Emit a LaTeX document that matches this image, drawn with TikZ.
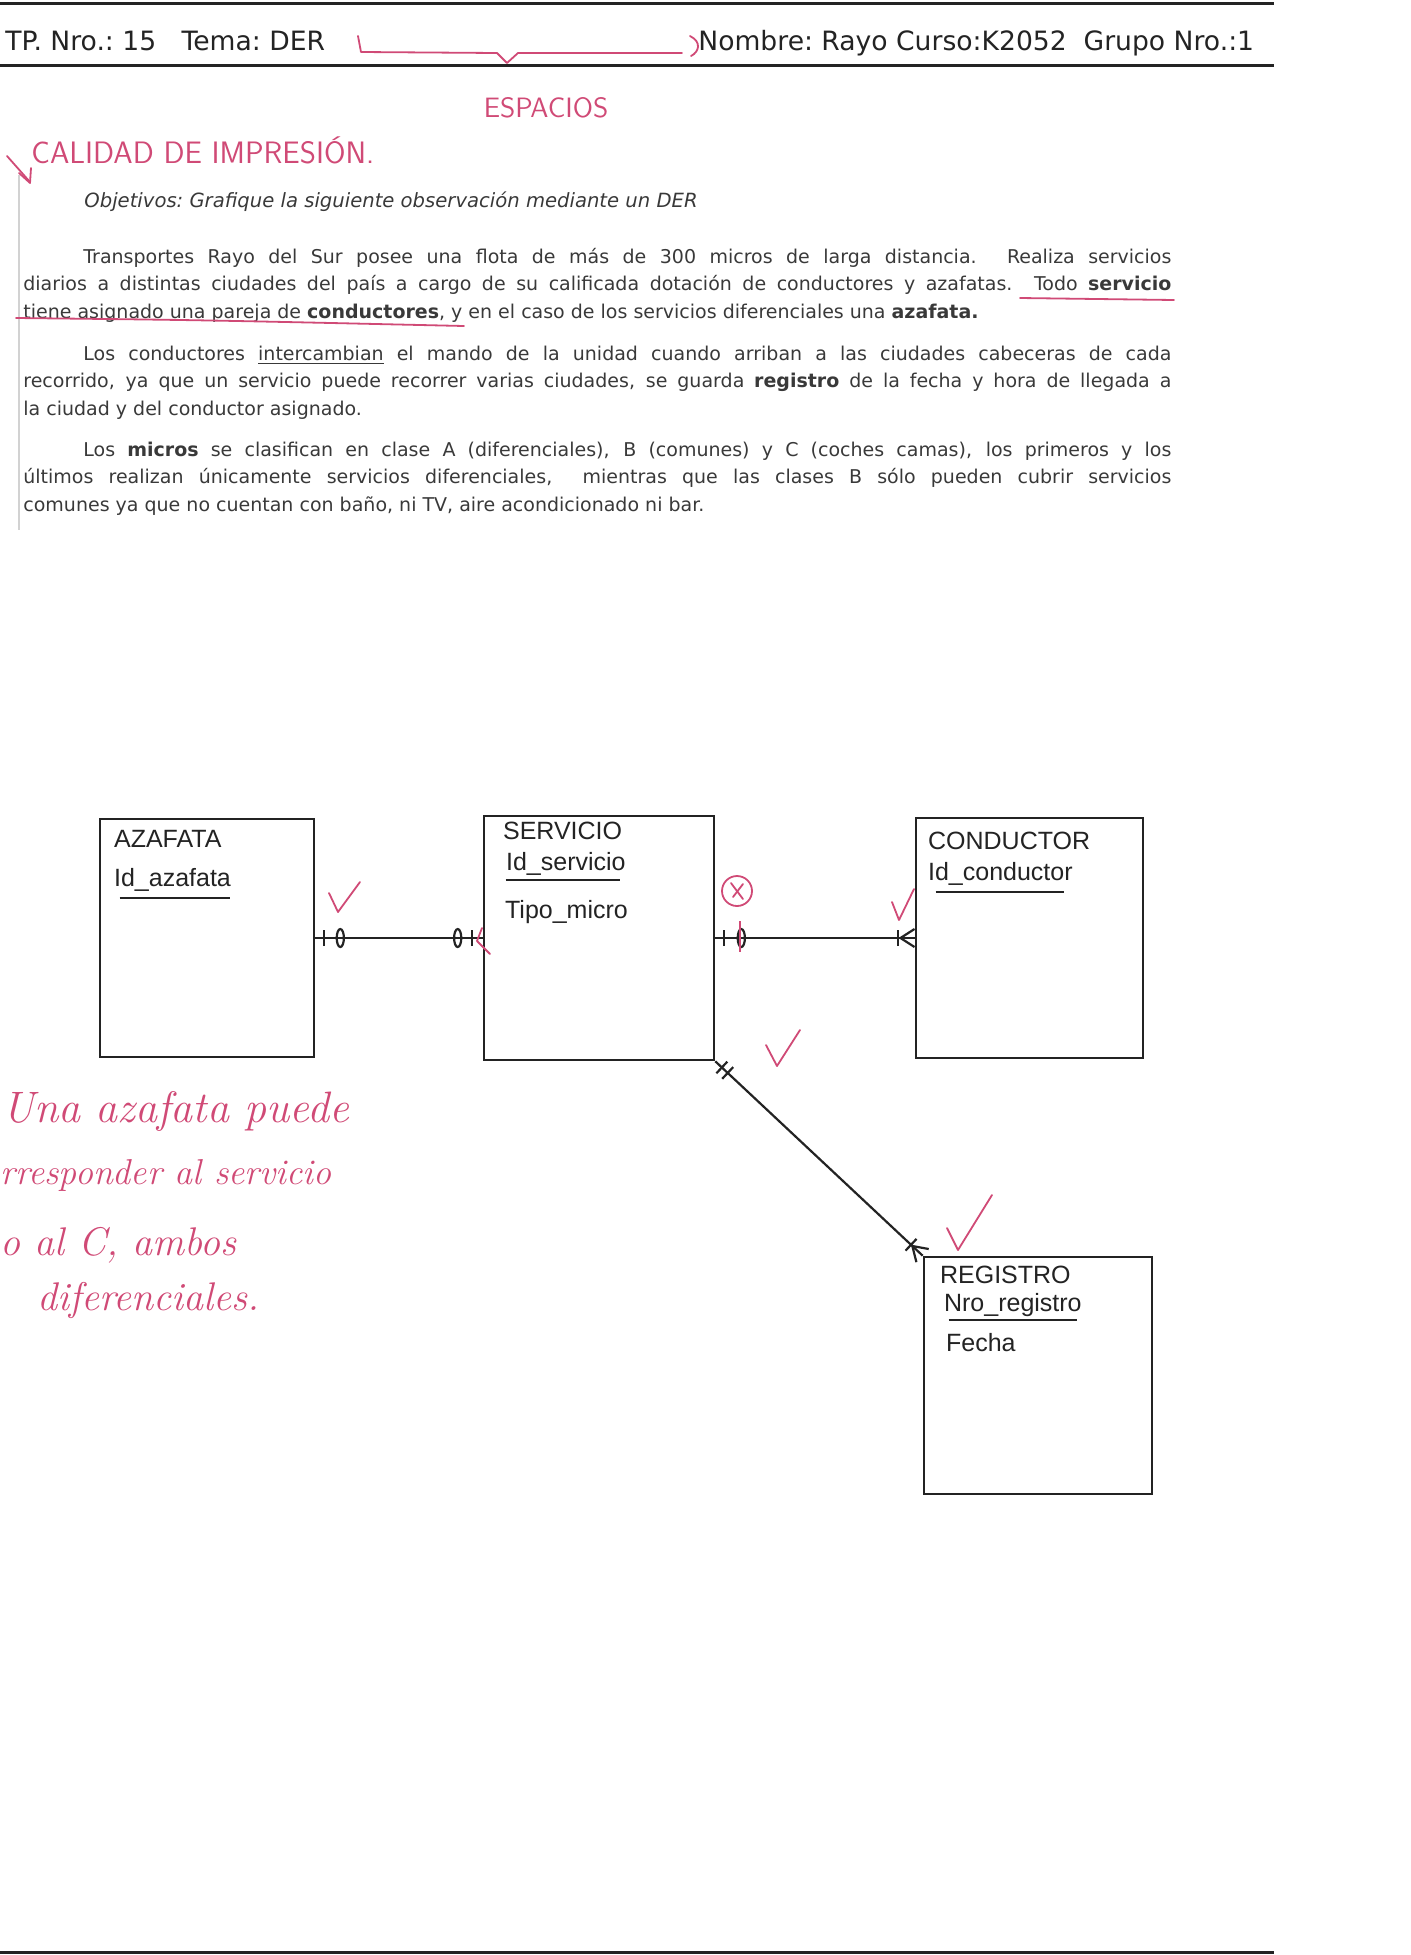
\documentclass[tikz,border=0pt]{standalone}
\usepackage{fontspec}
\newfontfamily\docfont{DejaVu Sans}
\newfontfamily\boxfont{Liberation Sans}
\usetikzlibrary{positioning,calc,decorations.markings}
\definecolor{ink}{RGB}{35,35,35}
\definecolor{penred}{RGB}{208,74,118}
\tolerance=9999
\hbadness=10000
\frenchspacing

\tikzset{
  entity/.style={draw=ink, line width=1.3pt, inner sep=0pt},
  etext/.style={anchor=base west, inner sep=0pt, text=ink, font=\boxfont\fontsize{12.5}{14}\selectfont},
  keyline/.style={draw=ink, line width=1.1pt},
  erline/.style={draw=ink, line width=1.1pt},
  bar at/.style={postaction={decorate, decoration={markings,
      mark=at position #1 with {\draw[ink, line width=1.1pt] (0pt,-4pt) -- (0pt,4pt);}}}},
  ring at/.style={postaction={decorate, decoration={markings,
      mark=at position #1 with {\draw[ink, line width=1.1pt] (0pt,0pt) ellipse [x radius=1.8pt, y radius=4.5pt];}}}},
  crow end/.style={postaction={decorate, decoration={markings,
      mark=at position -0.1pt with {\draw[ink, line width=1.1pt] (-7pt,0pt) -- (0pt,4.5pt) (-7pt,0pt) -- (0pt,-4.5pt);}}}},
  head/.style={anchor=base west, inner sep=0pt, text=ink, font=\docfont\fontsize{13.3}{16}\selectfont\frenchspacing},
  docline/.style={anchor=base west, inner sep=0pt, text=ink!90, font=\docfont\fontsize{9.8}{13.7}\selectfont\frenchspacing},
  para/.style={anchor=north west, inner sep=0pt, text width=574pt, align=justify, text=ink!90, font=\docfont\fontsize{9.5}{13.7}\selectfont\nonfrenchspacing},
  rule/.style={draw=ink, line width=1.5pt},
  penline/.style={draw=penred, line width=0.9pt, line cap=round, line join=round},
  capsnote/.style={inner sep=0pt, text=penred, font=\sffamily\fontsize{14}{16}\selectfont},
  hand/.style={anchor=base west, inner sep=0pt, text=penred, font=\fontsize{20}{20}\selectfont\itshape}
}

\begin{document}
\begin{tikzpicture}[x=0.5pt, y=-0.5pt]
  \useasboundingbox (0,0) rectangle (1410,1955);

  \draw[rule] (0,3) -- (1274,3);
  \draw[rule] (0,65) -- (1274,65);
  \draw[rule] (0,1952) -- (1274,1952);
  \node[head] (tp) at (5,50) {TP. Nro.: 15\ \ \ Tema: DER};
  \node[head] (nombre) at (698,50) {Nombre: Rayo Curso:K2052\ \ Grupo Nro.:1};

  \node[docline] (obj) at (84,207) {\itshape Objetivos: Grafique la siguiente observación mediante un DER};
  \node[para] (p1) at (23,244) {\strut\hspace*{30pt}Transportes Rayo del Sur posee una flota de más de 300 micros de larga distancia. Realiza servicios\linebreak
    diarios a distintas ciudades del país a cargo de su calificada dotación de conductores y azafatas. Todo \textbf{servicio}\linebreak
    tiene asignado una pareja de \textbf{conductores}, y en el caso de los servicios diferenciales una \textbf{azafata.}};
  \node[para] (p2) at (23,341) {\strut\hspace*{30pt}Los conductores \underline{intercambian} el mando de la unidad cuando arriban a las ciudades cabeceras de cada\linebreak
    recorrido, ya que un servicio puede recorrer varias ciudades, se guarda \textbf{registro} de la fecha y hora de llegada a\linebreak
    la ciudad y del conductor asignado.};
  \node[para] (p3) at (23,437) {\strut\hspace*{30pt}Los \textbf{micros} se clasifican en clase A (diferenciales), B (comunes) y C (coches camas), los primeros y los\linebreak
    últimos realizan únicamente servicios diferenciales,\ \ mientras que las clases B sólo pueden cubrir servicios\linebreak
    comunes ya que no cuentan con baño, ni TV, aire acondicionado ni bar.};
  \draw[gray!35, line width=1.2pt] (19,175) -- (19,530);

  \node[entity, minimum width=107pt, minimum height=119pt] (az) at (207,938) {};
  \node[entity, minimum width=115pt, minimum height=122pt] (sv) at (599,938) {};
  \node[entity, minimum width=113.5pt, minimum height=120pt] (cd) at (1029.5,938) {};
  \node[entity, minimum width=114pt, minimum height=118.5pt] (rg) at (1038,1375.5) {};

  \node[etext] (azname) at ($(az.north west)+(15,30)$) {AZAFATA};
  \node[etext] (azkey) at ($(az.north west)+(15,69)$) {Id\_azafata};
  \draw[keyline] ($(azkey.base west)+(6,11)$) -- ($(azkey.base east)+(-1,11)$);

  \node[etext] (svname) at ($(sv.north west)+(20,25)$) {SERVICIO};
  \node[etext] (svkey) at ($(sv.north west)+(23,56)$) {Id\_servicio};
  \draw[keyline] ($(svkey.base west)+(0,9)$) -- ($(svkey.base east)+(-6,9)$);
  \node[etext] (svtipo) at ($(sv.north west)+(22,104)$) {Tipo\_micro};

  \node[etext] (cdname) at ($(cd.north west)+(13,33)$) {CONDUCTOR};
  \node[etext] (cdkey) at ($(cd.north west)+(13,64)$) {Id\_conductor};
  \draw[keyline] ($(cdkey.base west)+(8,11)$) -- ($(cdkey.base east)+(-9,11)$);

  \node[etext] (rgname) at ($(rg.north west)+(17,28)$) {REGISTRO};
  \node[etext] (rgkey) at ($(rg.north west)+(21,56)$) {Nro\_registro};
  \draw[keyline] ($(rgkey.base west)+(5,8)$) -- ($(rgkey.base east)+(-5,8)$);
  \node[etext] (rgfecha) at ($(rg.north west)+(23,96)$) {Fecha};

  \draw[erline, bar at=4.5pt, ring at=12.5pt, ring at=-12.5pt, bar at=-5.5pt] (az.east) -- (sv.west);
  \draw[erline, bar at=4.5pt, ring at=13pt, bar at=-8.5pt, crow end] (sv.east) -- (cd.west);
  \draw[erline, bar at=4.5pt, bar at=8.5pt, bar at=-8pt, crow end] (sv.south east) -- (rg.north west);

  \draw[penline] (358,36) -- (361,52) -- (497,53) -- (507,63) -- (518,53) -- (682,53);
  \draw[penline] (690,36) .. controls (702,42) and (699,52) .. (691,56);
  \node[capsnote] (espacios) at (546,108) {ESPACIOS};
  \node[capsnote, anchor=west, font=\sffamily\fontsize{15.5}{18}\selectfont] (calidad) at (31,150) {CALIDAD DE IMPRESIÓN.};
  \draw[penline] (7,156) -- (30,182);
  \draw[penline] (19,173) -- (30,183) -- (31,168);
  \draw[penline] (1020,298) -- (1174,300);
  \draw[penline] (16,318) .. controls (200,320) .. (464,326);

  \draw[penline] (329,893) -- (338,912) -- (360,882);
  \draw[penline] (482,928) -- (477,941) -- (490,954);
  \draw[penline] (737,891) circle [radius=7.5pt];
  \draw[penline] (731,883) -- (743,899);
  \draw[penline] (743,884) -- (733,897);
  \draw[penred, line width=1.4pt] (740,921) -- (740,952);
  \draw[penline] (892,902) -- (899,920) -- (914,889);
  \draw[penline] (766,1045) -- (777,1066) -- (800,1030);
  \draw[penline] (947,1228) -- (958,1250) -- (992,1195);

  \node[hand, font=\fontsize{22}{22}\selectfont\itshape] (nota1) at (2,1122) {\addfontfeature{LetterSpace=7}Una azafata puede};
  \node[hand, font=\fontsize{18}{18}\selectfont\itshape] (nota2) at (0,1184) {rresponder al servicio};
  \node[hand] (nota3) at (0,1255) {o al C, ambos};
  \node[hand] (nota4) at (37,1310) {diferenciales.};
\end{tikzpicture}
\end{document}
